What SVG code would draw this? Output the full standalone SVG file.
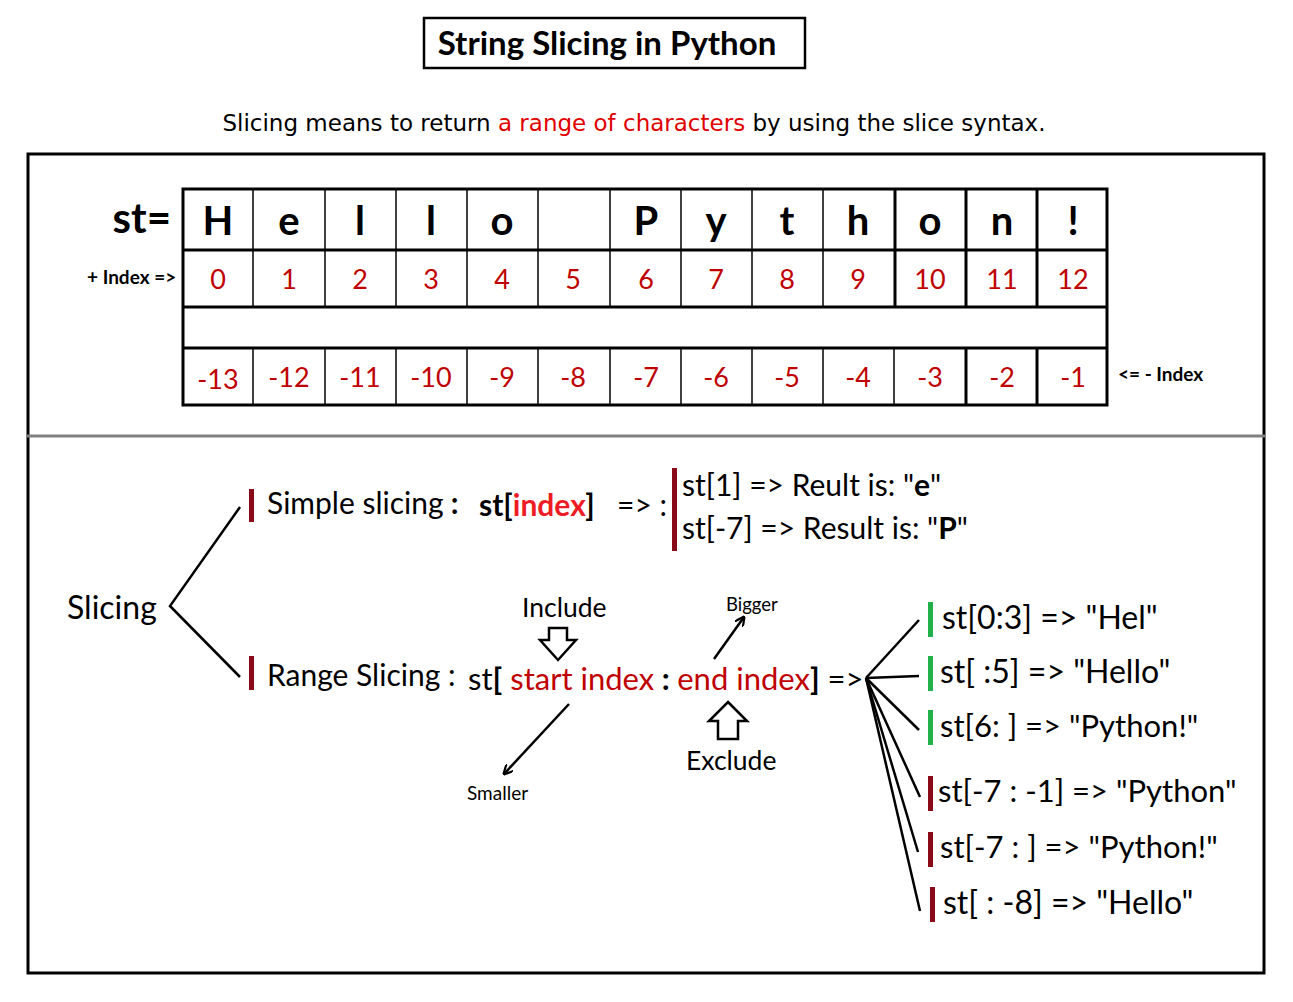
<svg xmlns="http://www.w3.org/2000/svg" width="1293" height="1002" viewBox="0 0 1293 1002">
<style>
.c{font-family:Lato,"Open Sans",sans-serif}
.b{font-weight:bold}
.let{font-family:Lato,sans-serif;font-weight:bold;font-size:40px;text-anchor:middle}
.num{font-family:Lato,sans-serif;font-size:27px;fill:#c00000;text-anchor:middle}
.thin{stroke:#000;stroke-width:1.5}
.thick{stroke:#000;stroke-width:3}
.ln{stroke:#000;stroke-width:2.5;fill:none}
.red{fill:#c00000}
.bred{fill:#ee1c24}
.barR{fill:#8b0a1a}
.barG{fill:#22b04a}
.t30{font-size:30px}
.t32{font-size:32px}
</style>
<defs>
<marker id="ah" viewBox="0 0 10 10" refX="9" refY="5" markerWidth="10" markerHeight="10" markerUnits="userSpaceOnUse" orient="auto">
<path d="M0,0 L10,5 L0,10" fill="none" stroke="#000" stroke-width="2.2"/>
</marker>
</defs>
<rect width="1293" height="1002" fill="#fff"/>

<g id="title">
<rect x="424" y="18" width="381" height="50" fill="none" stroke="#000" stroke-width="2.5"/>
<text x="607" y="55" class="c b" font-size="33" text-anchor="middle">String Slicing in Python</text>
</g>
<g id="subtitle">
<text x="634" y="131" font-family="DejaVu Sans,Verdana,sans-serif" font-size="23" text-anchor="middle">Slicing means to return <tspan fill="#e00000">a range of characters</tspan> by using the slice syntax.</text>
</g>

<g id="frame">
<rect x="28" y="154" width="1236" height="819" fill="none" stroke="#000" stroke-width="3"/>
<line x1="27" y1="436" x2="1265" y2="436" stroke="#808080" stroke-width="3"/>
</g>

<g id="table">
<text x="171" y="233" class="c b" font-size="42" text-anchor="end">st=</text>
<text x="87" y="284" class="c b" font-size="19">+ Index =&gt;</text>
<text x="1118" y="381" class="c b" font-size="19">&lt;= - Index</text>
<g class="thin">
<line x1="253" y1="188" x2="253" y2="307"/><line x1="325" y1="188" x2="325" y2="307"/>
<line x1="396" y1="188" x2="396" y2="307"/><line x1="467" y1="188" x2="467" y2="307"/>
<line x1="538" y1="188" x2="538" y2="307"/><line x1="610" y1="188" x2="610" y2="307"/>
<line x1="681" y1="188" x2="681" y2="307"/><line x1="752" y1="188" x2="752" y2="307"/>
<line x1="823" y1="188" x2="823" y2="307"/>
<line x1="253" y1="348" x2="253" y2="405"/><line x1="325" y1="348" x2="325" y2="405"/>
<line x1="396" y1="348" x2="396" y2="405"/><line x1="467" y1="348" x2="467" y2="405"/>
<line x1="538" y1="348" x2="538" y2="405"/><line x1="610" y1="348" x2="610" y2="405"/>
<line x1="681" y1="348" x2="681" y2="405"/><line x1="752" y1="348" x2="752" y2="405"/>
<line x1="823" y1="348" x2="823" y2="405"/><line x1="894" y1="348" x2="894" y2="405"/>
</g>
<g class="thick">
<rect x="183" y="189" width="924" height="216" fill="none"/>
<line x1="183" y1="250" x2="1107" y2="250"/>
<line x1="183" y1="307" x2="1107" y2="307"/>
<line x1="183" y1="348" x2="1107" y2="348"/>
<line x1="895" y1="188" x2="895" y2="307"/>
<line x1="966" y1="188" x2="966" y2="307"/><line x1="1037" y1="188" x2="1037" y2="307"/>
<line x1="966" y1="348" x2="966" y2="405"/><line x1="1037" y1="348" x2="1037" y2="405"/>
</g>
<g class="let">
<text x="218" y="235">H</text><text x="289" y="235">e</text><text x="360" y="235">l</text>
<text x="431" y="235">l</text><text x="502" y="235">o</text>
<text x="646" y="235">P</text><text x="716" y="235">y</text><text x="787" y="235">t</text>
<text x="858" y="235">h</text><text x="930" y="235">o</text><text x="1002" y="235">n</text>
<text x="1073" y="235">!</text>
</g>
<g class="num">
<text x="218" y="289">0</text><text x="289" y="289">1</text><text x="360" y="289">2</text>
<text x="431" y="289">3</text><text x="502" y="289">4</text><text x="573" y="289">5</text>
<text x="646" y="289">6</text><text x="716" y="289">7</text><text x="787" y="289">8</text>
<text x="858" y="289">9</text><text x="930" y="289">10</text><text x="1002" y="289">11</text>
<text x="1073" y="289">12</text>
<text x="218" y="389">-13</text><text x="289" y="387">-12</text><text x="360" y="387">-11</text>
<text x="431" y="387">-10</text><text x="502" y="387">-9</text><text x="573" y="387">-8</text>
<text x="646" y="387">-7</text><text x="716" y="387">-6</text><text x="787" y="387">-5</text>
<text x="858" y="387">-4</text><text x="930" y="387">-3</text><text x="1002" y="387">-2</text>
<text x="1073" y="387">-1</text>
</g>
</g>

<g id="slicing">
<text x="67" y="619" class="c t32">Slicing</text>
</g>

<g id="simple">
<rect x="249" y="489" width="5" height="33" class="barR"/>
<text x="267" y="514" class="c t30">Simple slicing<tspan class="b"> :</tspan></text>
<text x="479" y="516" class="c t30 b">st[<tspan class="bred">index</tspan>]</text>
<text x="617" y="516" class="c t30">=&gt; :</text>
<rect x="672" y="468" width="5" height="83" class="barR"/>
<text x="682" y="496" class="c t30">st[1] =&gt; Reult is: "<tspan class="b">e</tspan>"</text>
<text x="682" y="539" class="c t30">st[-7] =&gt; Result is: "<tspan class="b">P</tspan>"</text>
</g>

<g id="range">
<rect x="249" y="656" width="5" height="34" class="barR"/>
<text x="267" y="686" class="c t30">Range Slicing :</text>
<text x="468" y="690" class="c" font-size="31">st<tspan class="b">[</tspan> <tspan class="red">start index</tspan><tspan class="b"> : </tspan><tspan class="red">end index</tspan><tspan class="b">]</tspan> =&gt;</text>
<text x="522" y="617" class="c" font-size="26.5">Include</text>
<path d="M549,628 H567 V640 H576 L558,660 L540,640 H549 Z" fill="#fff" stroke="#000" stroke-width="2.5"/>
<path d="M728,702 L747,721 H738 V739 H718 V721 H709 Z" fill="#fff" stroke="#000" stroke-width="2.5"/>
<text x="686" y="770" class="c" font-size="26.5">Exclude</text>
<text x="726" y="611" class="c" font-size="18.5">Bigger</text>
<text x="467" y="800" class="c" font-size="19">Smaller</text>
</g>

<g id="results">
<rect x="928" y="602" width="5" height="35" class="barG"/>
<rect x="928" y="656" width="5" height="35" class="barG"/>
<rect x="928" y="710" width="5" height="35" class="barG"/>
<rect x="928" y="776" width="5" height="35" class="barR"/>
<rect x="928" y="832" width="5" height="35" class="barR"/>
<rect x="930" y="887" width="5" height="35" class="barR"/>
<text x="942" y="629" class="c t32">st[0:3] =&gt; "Hel"</text>
<text x="940" y="683" class="c t32">st[ :5] =&gt; "Hello"</text>
<text x="940" y="737" class="c" font-size="31">st[6: ] =&gt; "Python!"</text>
<text x="938" y="802" class="c" font-size="31">st[-7 : -1] =&gt; "Python"</text>
<text x="940" y="858" class="c" font-size="31">st[-7 : ] =&gt; "Python!"</text>
<text x="943" y="914" class="c t32">st[ : -8] =&gt; "Hello"</text>
</g>

<g id="connectors">
<polyline points="240,507 170,606 240,677" class="ln"/>
<line x1="714" y1="659" x2="744" y2="617" class="ln" stroke-width="2" marker-end="url(#ah)"/>
<line x1="569" y1="704" x2="504" y2="774" class="ln" stroke-width="2" marker-end="url(#ah)"/>
<line x1="866" y1="678" x2="919" y2="620" class="ln"/>
<line x1="866" y1="678" x2="919" y2="676" class="ln"/>
<line x1="866" y1="678" x2="919" y2="730" class="ln"/>
<line x1="866" y1="678" x2="920" y2="797" class="ln"/>
<line x1="866" y1="678" x2="918" y2="852" class="ln"/>
<line x1="866" y1="678" x2="920" y2="911" class="ln"/>
</g>
</svg>
